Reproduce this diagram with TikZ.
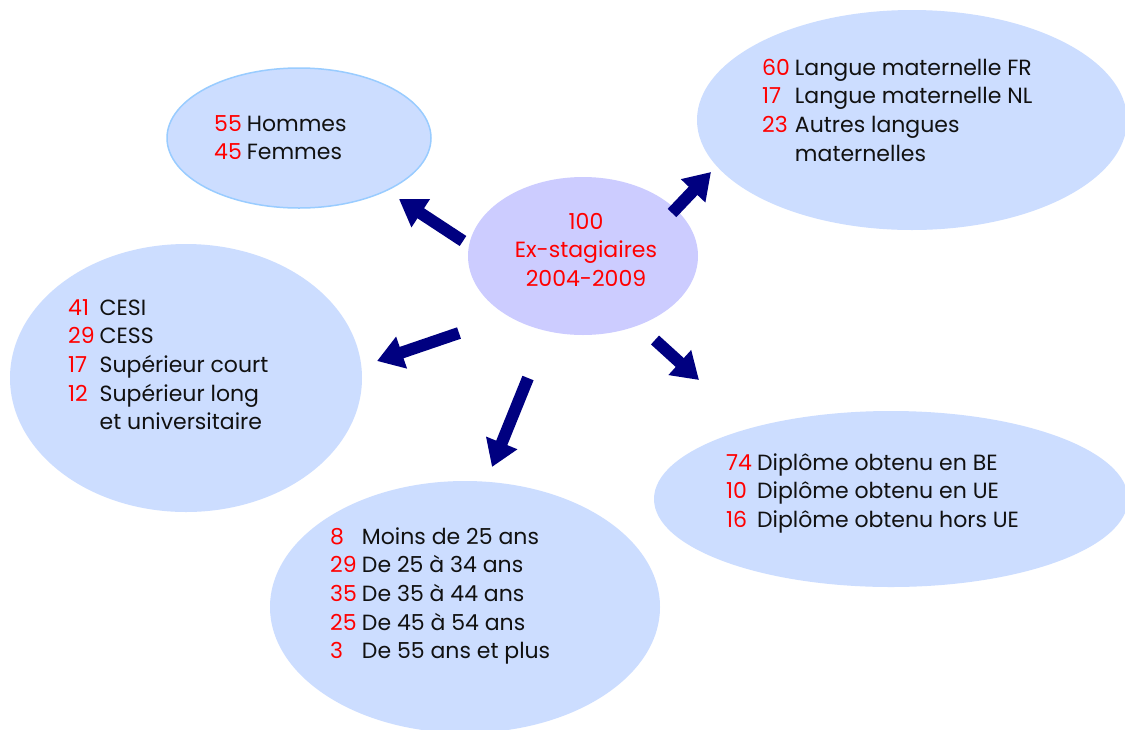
\documentclass[tikz,border=0pt]{standalone}
\usepackage{fontspec}
\setmainfont{Poppins}
\usetikzlibrary{shapes.geometric,arrows.meta}
\definecolor{bubble}{HTML}{CCDDFF}
\definecolor{bubbleline}{HTML}{99CCFF}
\definecolor{hub}{HTML}{CCCCFF}
\definecolor{navy}{HTML}{000080}
\definecolor{numred}{HTML}{FF0000}
\definecolor{txt}{HTML}{111111}
\newcommand{\nb}[1]{\textcolor{numred}{#1}}
\begin{document}
\begin{tikzpicture}[x=1pt,y=-1pt,
  bubblebox/.style={ellipse, fill=bubble, draw=none, inner sep=0pt},
  hubbox/.style={ellipse, fill=hub, draw=none, inner sep=0pt},
  label/.style={inner sep=0pt, anchor=base west, text=txt, font=\fontsize{22}{28.7}\selectfont},
  arr/.style={line width=12pt, draw=navy, -{Triangle[length=26pt,width=32pt]}}]
\useasboundingbox (0,0) rectangle (1125,729);
\clip (0,0) rectangle (1125,729);
\fill[white] (0,0) rectangle (1125,729);
% bubbles
\node[bubblebox, draw=bubbleline, line width=1.5pt, minimum width=264pt, minimum height=140pt] (sexe) at (299,138) {};
\node[bubblebox, minimum width=430pt, minimum height=220pt] (langue) at (912,120) {};
\node[bubblebox, minimum width=352pt, minimum height=268pt] (etudes) at (186,378) {};
\node[bubblebox, minimum width=390pt, minimum height=252pt] (age) at (465,607) {};
\node[bubblebox, minimum width=474pt, minimum height=176pt] (diplome) at (891,499) {};
\node[hubbox, minimum width=230pt, minimum height=158pt] (hub) at (583,256) {};
% texts
\node[label] (tsexe) at (214,131) {\begin{tabular}[t]{@{}l@{\hspace{5pt}}l@{}}\nb{55}&Hommes\\ \nb{45}&Femmes\end{tabular}};
\node[label, anchor=base] (thub) at (586,229) {\begin{tabular}[t]{@{}c@{}}\nb{100}\\ \nb{Ex-stagiaires}\\ \nb{2004-2009}\end{tabular}};
\node[label] (tlangue) at (762,75) {\begin{tabular}[t]{@{}l@{\hspace{5pt}}l@{}}\nb{60}&Langue maternelle FR\\ \nb{17}&Langue maternelle NL\\ \nb{23}&Autres langues\\ &maternelles\end{tabular}};
\node[label] (tetudes) at (68,315) {\begin{tabular}[t]{@{}l@{\hspace{5pt}}l@{}}\nb{41}&CESI\\ \nb{29}&CESS\\ \nb{17}&Supérieur court\\ \nb{12}&Supérieur long\\ &et universitaire\end{tabular}};
\node[label] (tage) at (330,544) {\begin{tabular}[t]{@{}l@{\hspace{5pt}}l@{}}\nb{8}&Moins de 25 ans\\ \nb{29}&De 25 à 34 ans\\ \nb{35}&De 35 à 44 ans\\ \nb{25}&De 45 à 54 ans\\ \nb{3}&De 55 ans et plus\end{tabular}};
\node[label] (tdiplome) at (726,470) {\begin{tabular}[t]{@{}l@{\hspace{5pt}}l@{}}\nb{74}&Diplôme obtenu en BE\\ \nb{10}&Diplôme obtenu en UE\\ \nb{16}&Diplôme obtenu hors UE\end{tabular}};
% arrows
\coordinate (s1) at (463,241); \coordinate (e1) at (399,199);
\coordinate (s2) at (672,213); \coordinate (e2) at (711,172);
\coordinate (s3) at (459,333); \coordinate (e3) at (377,361);
\coordinate (s4) at (528,378); \coordinate (e4) at (492,467);
\coordinate (s5) at (655,340); \coordinate (e5) at (699,380);
\draw[arr] (s1) -- (e1);
\draw[arr] (s2) -- (e2);
\draw[arr] (s3) -- (e3);
\draw[arr] (s4) -- (e4);
\draw[arr] (s5) -- (e5);
\end{tikzpicture}
\end{document}
